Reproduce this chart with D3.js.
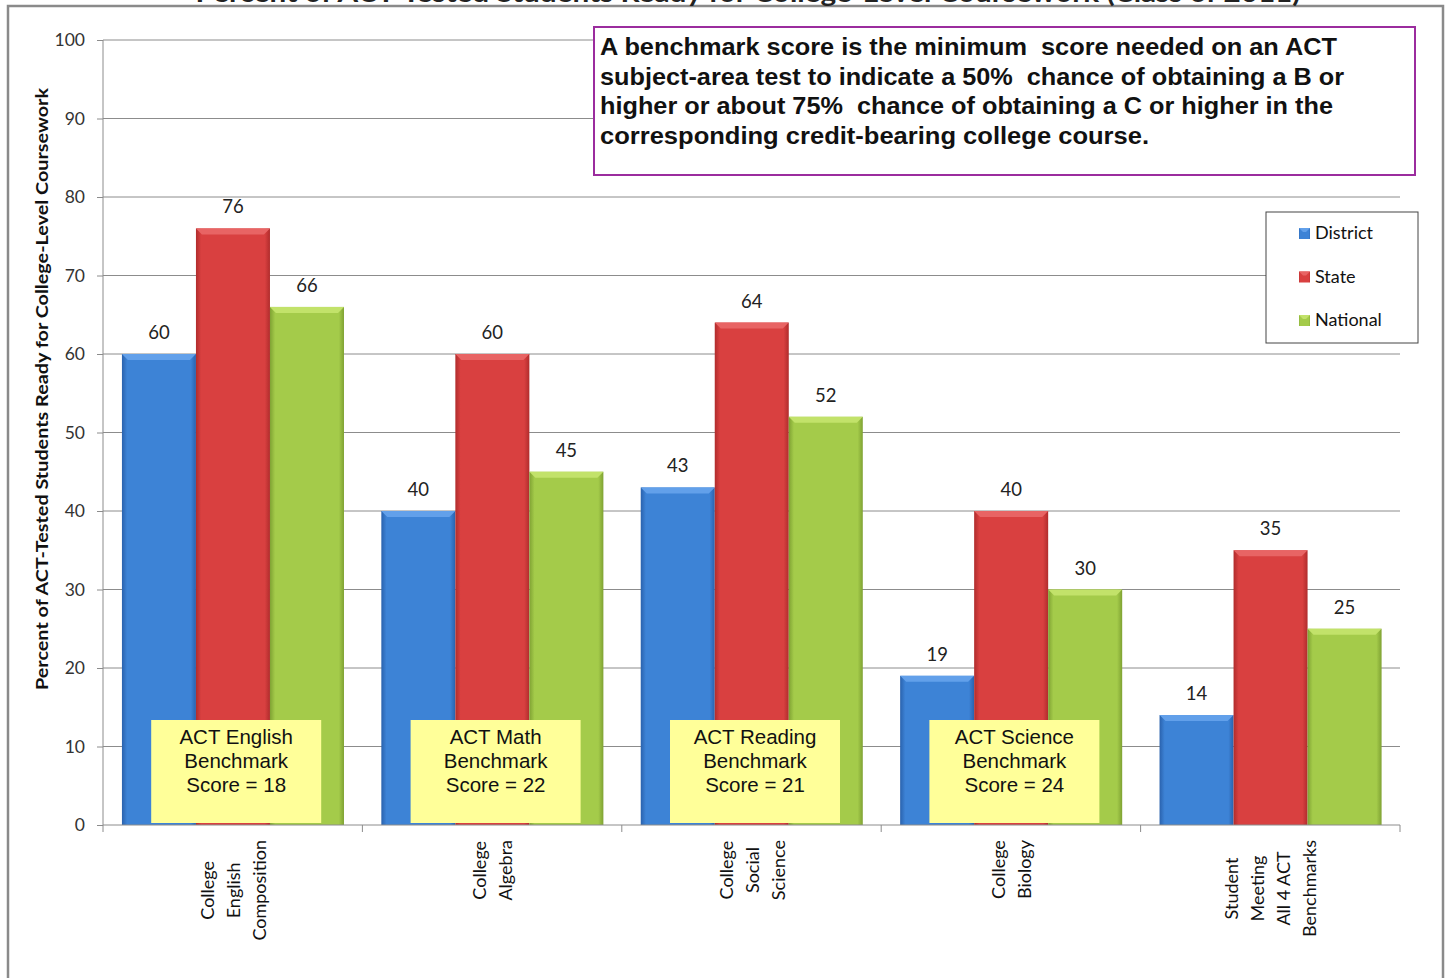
<!DOCTYPE html>
<html>
<head>
<meta charset="utf-8">
<script src="https://cdn.jsdelivr.net/npm/d3@7"></script>
<style>
  body { margin: 0; background: #fff; }
  svg text { white-space: pre; }
</style>
</head>
<body>
<div id="chart"></div>
<script>
let width = 1448
let height = 978

// data
let categories = [
    ["College", "English", "Composition"],
    ["College", "Algebra"],
    ["College", "Social", "Science"],
    ["College", "Biology"],
    ["Student", "Meeting", "All 4 ACT", "Benchmarks"]
]
let seriesNames = ["District", "State", "National"]
let district = [60, 40, 43, 19, 14]
let state = [76, 60, 64, 40, 35]
let national = [66, 45, 52, 30, 25]
let yTicks = [0, 10, 20, 30, 40, 50, 60, 70, 80, 90, 100]
let benchmarks = [
    ["ACT English", "Benchmark", "Score = 18"],
    ["ACT Math", "Benchmark", "Score = 22"],
    ["ACT Reading", "Benchmark", "Score = 21"],
    ["ACT Science", "Benchmark", "Score = 24"]
]
let noteLines = [
    "A benchmark score is the minimum  score needed on an ACT",
    "subject-area test to indicate a 50%  chance of obtaining a B or",
    "higher or about 75%  chance of obtaining a C or higher in the",
    "corresponding credit-bearing college course."
]
let titleText = "Percent of ACT-Tested Students Ready for College-Level Coursework (Class of 2011)"
let yLabel = "Percent of ACT-Tested Students Ready for College-Level Coursework"

let allSeries = [district, state, national]

let colors = [
    {main: "#3d83d6", edge: "#2a62ad", top: "#62a0ea"},
    {main: "#d94040", edge: "#b02c2c", top: "#e86464"},
    {main: "#a4cb4a", edge: "#7fa233", top: "#c2e26a"}
]

let plotLeft = 103, plotRight = 1400, plotTop = 40, plotBottom = 825

let svg = d3.select("#chart")
    .append("svg")
    .attr("width", width)
    .attr("height", height)

let defs = svg.append("defs")
colors.forEach(function(c, i){
    let g = defs.append("linearGradient")
        .attr("id", "grad" + i)
        .attr("x1", "0").attr("x2", "1").attr("y1", "0").attr("y2", "0")
    g.append("stop").attr("offset", "0").attr("stop-color", c.edge)
    g.append("stop").attr("offset", "0.07").attr("stop-color", c.main)
    g.append("stop").attr("offset", "0.93").attr("stop-color", c.main)
    g.append("stop").attr("offset", "1").attr("stop-color", c.edge)
})

// frame and title (title is cut at top of the picture)
svg.append("rect")
    .attr("x", 8).attr("y", 6)
    .attr("width", 1435).attr("height", 1000)
    .attr("fill", "#fff")
    .attr("stroke", "#8a8a8a")
    .attr("stroke-width", 2.5)

svg.append("text")
    .attr("x", 748).attr("y", 1.5)
    .attr("text-anchor", "middle")
    .attr("font-family", "Lato")
    .attr("font-weight", "bold")
    .attr("font-size", 26)
    .attr("fill", "#222")
    .attr("textLength", 1105)
    .attr("lengthAdjust", "spacingAndGlyphs")
    .text(titleText)

let x0 = d3.scaleBand()
    .domain(d3.range(categories.length))
    .range([plotLeft, plotRight])

let x1 = d3.scaleBand()
    .domain(d3.range(seriesNames.length))
    .range([x0.bandwidth() * 0.073, x0.bandwidth() * 0.929])

let y = d3.scaleLinear()
    .domain([0, 100])
    .range([plotBottom, plotTop])

// gridlines
svg.append("g")
    .selectAll("line")
    .data(yTicks.filter(d => d > 0))
    .enter()
    .append("line")
    .attr("x1", plotLeft).attr("x2", plotRight)
    .attr("y1", d => y(d)).attr("y2", d => y(d))
    .attr("stroke", "#8c8c8c")
    .attr("stroke-width", 1)

// y axis
let yAxis = d3.axisLeft(y).tickValues(yTicks).tickSize(6).tickPadding(12)
let yg = svg.append("g")
    .attr("transform", `translate(${plotLeft}, 0)`)
    .call(yAxis)
yg.select(".domain").remove()
yg.selectAll("line").attr("stroke", "#8c8c8c")
yg.selectAll("text")
    .attr("font-family", "Lato")
    .attr("font-size", 17.5)
    .attr("fill", "#333")
svg.append("line")
    .attr("x1", plotLeft).attr("x2", plotLeft)
    .attr("y1", plotTop).attr("y2", plotBottom + 7)
    .attr("stroke", "#8c8c8c")

svg.append("text")
    .attr("transform", `translate(48, ${(88 + 690) / 2}) rotate(-90)`)
    .attr("text-anchor", "middle")
    .attr("font-family", "Lato")
    .attr("font-weight", "bold")
    .attr("font-size", 17)
    .attr("fill", "#111")
    .attr("textLength", 602)
    .attr("lengthAdjust", "spacingAndGlyphs")
    .text(yLabel)

// bars
let groups = svg.append("g")
    .selectAll("g")
    .data(categories)
    .enter()
    .append("g")
    .attr("transform", (d, i) => `translate(${x0(i)}, 0)`)

groups.each(function(cat, ci){
    let g = d3.select(this)
    allSeries.forEach(function(values, si){
        let v = values[ci]
        let bx = x1(si)
        let bw = x1.bandwidth()
        let by = y(v)
        let bh = y(0) - y(v)
        let b = 6
        g.append("rect")
            .attr("x", bx).attr("y", by)
            .attr("width", bw).attr("height", bh)
            .attr("fill", `url(#grad${si})`)
        g.append("polygon")
            .attr("points", [
                [bx, by], [bx + bw, by], [bx + bw - b, by + b], [bx + b, by + b]
            ].map(p => p.join(",")).join(" "))
            .attr("fill", colors[si].top)
        g.append("text")
            .attr("x", bx + bw / 2)
            .attr("y", by - 15)
            .attr("text-anchor", "middle")
            .attr("font-family", "Lato")
            .attr("font-size", 18.5)
            .attr("fill", "#222")
            .text(v)
    })
})

// baseline and category ticks
svg.append("line")
    .attr("x1", plotLeft).attr("x2", plotRight)
    .attr("y1", plotBottom).attr("y2", plotBottom)
    .attr("stroke", "#8c8c8c")
svg.append("g")
    .selectAll("line")
    .data(d3.range(1, categories.length + 1))
    .enter()
    .append("line")
    .attr("x1", d => plotLeft + d * x0.bandwidth())
    .attr("x2", d => plotLeft + d * x0.bandwidth())
    .attr("y1", plotBottom).attr("y2", plotBottom + 7)
    .attr("stroke", "#8c8c8c")

// benchmark boxes
groups.filter((d, i) => i < benchmarks.length).each(function(cat, ci){
    let g = d3.select(this)
    let cx = x0.bandwidth() / 2 + 3.5
    g.append("rect")
        .attr("x", cx - 85).attr("y", 720)
        .attr("width", 170).attr("height", 103)
        .attr("fill", "#ffff99")
    benchmarks[ci].forEach(function(line, li){
        g.append("text")
            .attr("x", cx)
            .attr("y", 744 + li * 24)
            .attr("text-anchor", "middle")
            .attr("font-family", "Liberation Sans")
            .attr("font-size", 20.5)
            .attr("fill", "#111")
            .text(line)
    })
})

// category labels, rotated
groups.each(function(lines, ci){
    let g = d3.select(this)
    let cx = x0.bandwidth() / 2
    let texts = lines.map(function(line, li){
        return g.append("text")
            .attr("text-anchor", "middle")
            .attr("font-family", "Lato")
            .attr("font-size", 18)
            .attr("fill", "#111")
            .text(line)
    })
    let maxLen = d3.max(texts, t => t.node().getComputedTextLength())
    let cy = 840 + maxLen / 2
    texts.forEach(function(t, li){
        let lx = cx + (li - (lines.length - 1) / 2) * 26 + 7
        t.attr("transform", `translate(${lx}, ${cy}) rotate(-90)`)
    })
})

// note box
svg.append("rect")
    .attr("x", 594).attr("y", 27)
    .attr("width", 821).attr("height", 148)
    .attr("fill", "#fff")
    .attr("stroke", "#9b2c9e")
    .attr("stroke-width", 2)
let noteWidths = [737, 744, 733, 549]
noteLines.forEach(function(line, i){
    svg.append("text")
        .attr("x", 600)
        .attr("y", 55 + i * 29.5)
        .attr("font-family", "Liberation Sans")
        .attr("font-weight", "bold")
        .attr("font-size", 23)
        .attr("fill", "#111")
        .attr("textLength", noteWidths[i])
        .attr("lengthAdjust", "spacingAndGlyphs")
        .text(line)
})

// legend
let legend = svg.append("g")
legend.append("rect")
    .attr("x", 1266).attr("y", 212)
    .attr("width", 152).attr("height", 131)
    .attr("fill", "#fff")
    .attr("stroke", "#444")
    .attr("stroke-width", 1)
seriesNames.forEach(function(name, i){
    let ly = 233 + i * 43.5
    legend.append("rect")
        .attr("x", 1299).attr("y", ly - 5)
        .attr("width", 11).attr("height", 11)
        .attr("fill", `url(#grad${i})`)
    legend.append("polygon")
        .attr("points", `1299,${ly - 5} 1310,${ly - 5} 1306,${ly - 1} 1303,${ly - 1}`)
        .attr("fill", colors[i].top)
    legend.append("text")
        .attr("x", 1315)
        .attr("y", ly + 6)
        .attr("font-family", "Lato")
        .attr("font-size", 18)
        .attr("fill", "#111")
        .text(name)
})
</script>
</body>
</html>
